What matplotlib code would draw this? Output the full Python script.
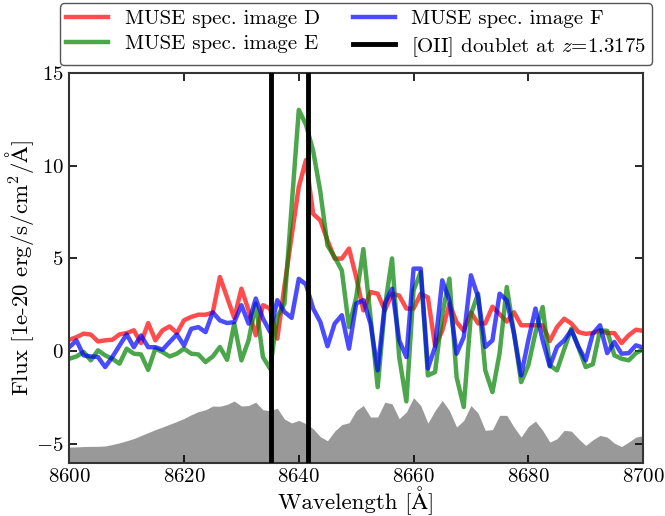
import numpy as np
import matplotlib.pyplot as plt

plt.rcParams['font.family'] = ['cmr10', 'STIXGeneral']
plt.rcParams['mathtext.fontset'] = 'cm'
plt.rcParams['axes.formatter.use_mathtext'] = True

# MUSE sampling, 1.25 A per pixel
wave = np.arange(8600, 8700.01, 1.25)

spec_d = [0.62, 0.76, 0.95, 0.9, 0.53, 0.59, 0.62, 0.91, 0.98, 1.13,
          0.44, 1.52, 0.59, 1.13, 1.34, 0.98, 1.67, 1.85, 1.97, 1.97,
          2.08, 4.0, 2.9, 1.8, 3.37, 2.2, 0.86, 2.48, 2.3, 0.68,
          3.5, 6.2, 8.85, 10.3, 7.4, 7.05, 5.97, 4.99, 4.99, 5.53,
          4.0, 2.2, 3.19, 3.1, 2.2, 3.1, 3.0, 2.3, 2.3, 3.1,
          2.9, 0.3, 1.1, 2.56, 1.57, 1.1, 2.1, 1.5, 1.5, 2.4,
          2.0, 1.6, 2.1, 1.4, 1.4, 1.4, 1.4, 0.55, 1.3, 1.75,
          1.5, 1.03, 0.94, 0.98, 1.1, 0.98, 0.98, 0.44, 0.86, 1.16,
          1.1]

spec_e = [-0.4, -0.28, -0.04, -0.49, 0.05, -0.22, -0.4, -0.67, 0.14, -0.13,
          -0.17, -1.0, 0.14, -0.04, -0.28, -0.13, 0.14, -0.13, -0.17, -0.58,
          -0.28, 0.23, -0.46, 1.48, -0.49, 0.59, 2.57, -0.31, -0.94, 1.85,
          2.57, 7.8, 13.0, 12.2, 10.8, 8.6, 5.7, 5.07, 4.35, 1.3,
          2.9, 5.5, 1.85, -1.93, 2.39, 5.0, -0.31, -2.7, 3.28, 4.27,
          -1.3, -1.12, 2.0, 3.91, -1.39, -3.0, 2.0, 3.1, -1.03, -2.2,
          -0.1, 3.46, 1.0, -1.66, -0.76, 1.0, 2.38, -0.76, -1.03, 0.1,
          1.22, 0.2, -0.85, -0.7, 1.13, 1.1, -0.22, -0.4, -0.49, -0.1,
          0.1]

spec_f = [0.22, 0.58, -0.22, -0.28, -0.31, -0.85, -0.31, 0.31, 0.91, 0.22,
          0.85, 0.22, 0.22, 0.08, 0.5, 0.91, 0.31, 1.21, 1.3, 1.03,
          2.1, 1.66, 1.52, 1.57, 2.48, 1.49, 2.84, 1.76, 1.04, 2.75,
          2.12, 1.8, 3.9, 3.6, 2.3, 1.58, 0.27, 1.49, 1.94, 0.14,
          2.57, 2.75, 1.49, -1.03, 2.57, 3.37, 0.58, -0.31, 4.45, 4.45,
          -0.92, 0.23, 3.82, 2.74, -0.13, 0.77, 4.09, 2.92, 0.23, 0.59,
          3.1, 2.74, 0.96, -1.3, 0.59, 2.3, 0.59, -0.81, 0.23, 0.59,
          1.13, 0.23, -0.49, 0.95, 1.4, -0.1, 0.5, -0.13, -0.1, 0.32,
          0.2]

# scaled sky spectrum (grey)
sky = [-5.16, -5.15, -5.13, -5.12, -5.12, -5.1, -5.02, -4.93, -4.82, -4.7,
       -4.54, -4.38, -4.22, -4.08, -3.93, -3.78, -3.62, -3.42, -3.25, -3.15,
       -2.95, -2.96, -2.86, -2.68, -2.95, -2.92, -2.74, -3.15, -3.2, -3.07,
       -3.65, -3.86, -3.72, -3.9, -4.17, -4.6, -4.82, -4.3, -3.95, -3.85,
       -3.2, -2.92, -3.54, -3.54, -2.74, -2.83, -3.63, -3.27, -2.5, -2.92,
       -3.87, -3.19, -2.65, -3.19, -4.08, -3.72, -2.92, -3.33, -4.26, -4.22,
       -3.45, -3.45, -4.08, -4.62, -4.05, -3.76, -4.26, -4.89, -4.71, -4.26,
       -4.3, -4.71, -5.07, -4.77, -4.53, -4.62, -4.95, -5.13, -4.89, -4.62,
       -4.55]

oii_rest = [3726.03, 3728.82]
z = 1.3175
oii_obs = [w * (1 + z) for w in oii_rest]

fig = plt.figure(figsize=(6.65, 5.16), dpi=100)
ax = fig.add_axes([0.1042, 0.1033, 0.8628, 0.7558])

ax.fill_between(wave, -10, sky, color='#999999', lw=0, zorder=1)
ax.plot(wave, spec_d, color='r', alpha=0.7, lw=3.2, label='MUSE spec. image D', zorder=2)
ax.plot(wave, spec_e, color='g', alpha=0.7, lw=3.2, label='MUSE spec. image E', zorder=2)
ax.plot(wave, spec_f, color='b', alpha=0.7, lw=3.2, label='MUSE spec. image F', zorder=2)
for i, w in enumerate(oii_obs):
    ax.axvline(w, color='k', lw=3.5, zorder=3,
               label=r'[OII] doublet at $z$=1.3175' if i == 0 else None)

ax.set_xlim(8600, 8700)
ax.set_ylim(-6, 15)
ax.set_xticks([8600, 8620, 8640, 8660, 8680, 8700])
ax.set_yticks([-5, 0, 5, 10, 15])
ax.tick_params(direction='in', top=True, right=True, length=6, width=1.2,
               labelsize=15, pad=4)
for s in ax.spines.values():
    s.set_linewidth(1.5)
    s.set_color('#333333')

ax.set_xlabel('Wavelength [Å]', fontsize=16.5, labelpad=0)
ax.set_ylabel(r'Flux [1e-20 erg/s/cm$^2$/$\mathrm{\AA}$]', fontsize=16.5, labelpad=0)

ax.legend(loc='lower center', bbox_to_anchor=(0.5, 1.02), ncol=2, fontsize=15,
          borderaxespad=0, handlelength=2.0, columnspacing=1.6,
          labelspacing=0.32, borderpad=0.3,
          fancybox=True, edgecolor='#555555', framealpha=1)

fig.savefig('out.png', dpi=100)
